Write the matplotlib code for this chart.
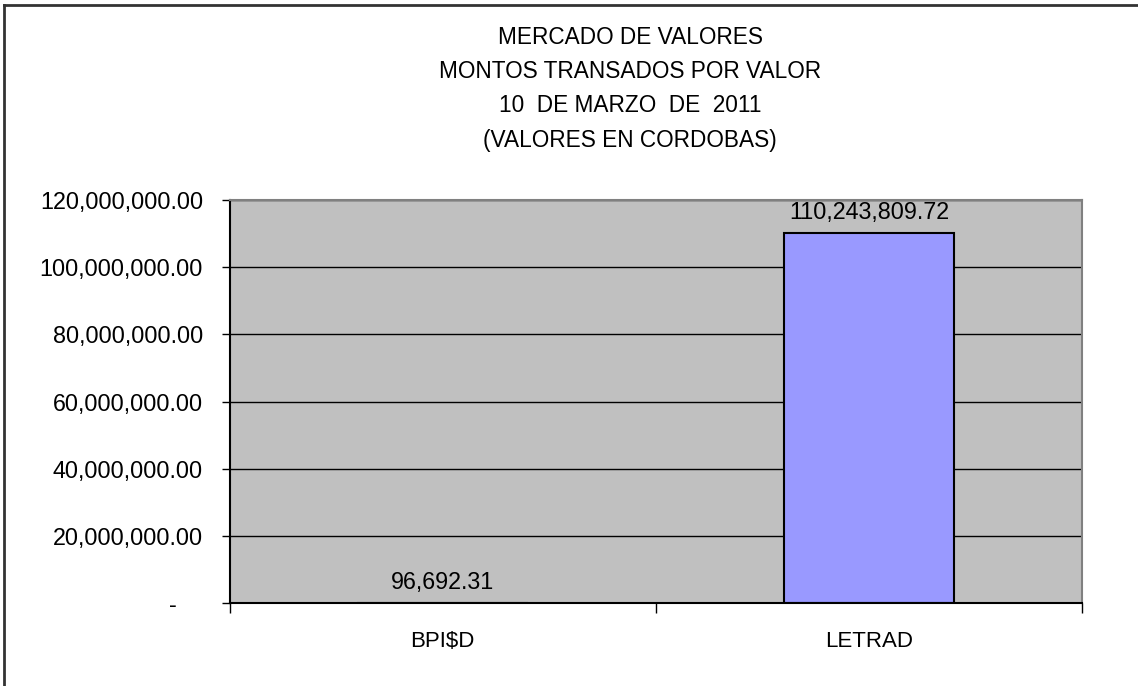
import matplotlib.pyplot as plt
import numpy as np
from matplotlib.lines import Line2D
from matplotlib.ticker import FuncFormatter

plt.rcParams["font.family"] = ["Liberation Sans", "DejaVu Sans"]

categories = ["BPI$D", "LETRAD"]
montos = [96692.31, 110243809.72]
y_ticks = [0, 20e6, 40e6, 60e6, 80e6, 100e6, 120e6]
title_lines = [
    "MERCADO DE VALORES",
    "MONTOS TRANSADOS POR VALOR",
    "10  DE MARZO  DE  2011",
    "(VALORES EN CORDOBAS)",
]


def fmt_y(val, pos):
    if val == 0:
        return "-    "
    return "{:,.2f}".format(val)


def chart():
    W, H = 1138, 686
    fig = plt.figure(figsize=(W / 100, H / 100), dpi=100)
    ax = fig.add_axes([229.5 / W, 1 - 603 / H, (1082 - 229.5) / W, (603 - 200) / H])
    ax.set_facecolor("#C0C0C0")

    x = np.arange(len(categories))
    ax.set_axisbelow(True)
    ax.yaxis.grid(True, color="black", linewidth=1)
    ax.bar(x, montos, width=0.4, color="#9999FF", edgecolor="black", linewidth=1.5, zorder=2)

    ax.set_xlim(-0.5, len(categories) - 0.5)
    ax.set_ylim(0, 120e6)
    ax.set_yticks(y_ticks)
    ax.yaxis.set_major_formatter(FuncFormatter(fmt_y))
    ax.tick_params(axis="y", length=6, width=1, pad=13, labelsize=16.8)

    ax.set_xticks(np.arange(len(categories) + 1) - 0.5)
    ax.set_xticklabels([])
    ax.set_xticks(x, minor=True)
    ax.set_xticklabels(categories, minor=True)
    ax.tick_params(axis="x", which="major", length=7, width=1)
    ax.tick_params(axis="x", which="minor", length=0, pad=20, labelsize=16)

    for s in ["top", "right"]:
        ax.spines[s].set_color("#808080")
        ax.spines[s].set_linewidth(1.5)
    for s in ["left", "bottom"]:
        ax.spines[s].set_color("black")
        ax.spines[s].set_linewidth(1.5)

    for xi, v in zip(x, montos):
        ax.annotate("{:,.2f}".format(v), (xi, v), xytext=(0, 6), textcoords="offset points",
                    ha="center", va="bottom", fontsize=16.8)

    for i, line in enumerate(title_lines):
        fig.text(630 / W, 1 - (38 + 34 * i) / H, line, ha="center", va="center", fontsize=16.3)

    # outer frame (left and top only visible)
    fig.add_artist(Line2D([4 / W, 4 / W], [0, 1 - 5 / H], transform=fig.transFigure,
                          color="#333333", linewidth=2))
    fig.add_artist(Line2D([4 / W, 1], [1 - 5 / H, 1 - 5 / H], transform=fig.transFigure,
                          color="#333333", linewidth=2))

    fig.savefig("out.png", dpi=100)


if __name__ == "__main__":
    chart()
